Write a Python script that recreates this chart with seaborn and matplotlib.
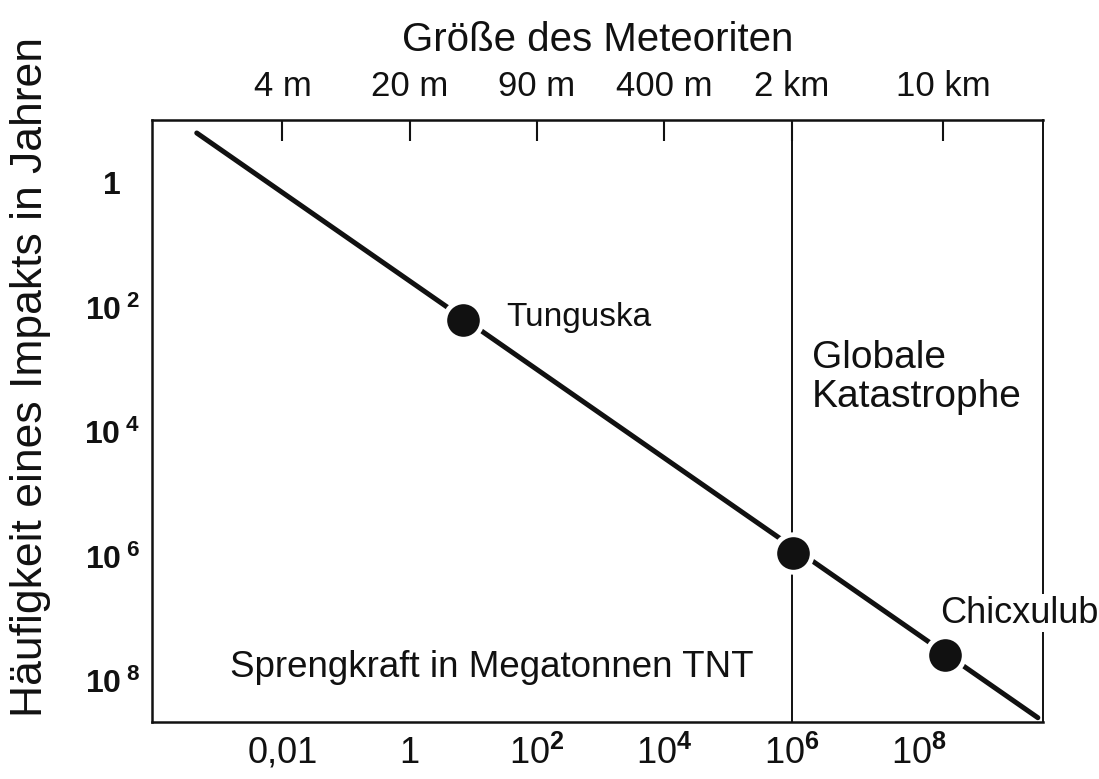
import matplotlib
matplotlib.use("Agg")
import matplotlib.pyplot as plt
import pandas as pd
import seaborn as sns

# data (log-log, energy in Mt TNT vs. years between impacts)
line_energy_mt = [4.5e-4, 7.4e9]
line_interval_yr = [0.158, 3.9e8]

event_names = ["Tunguska", "", "Chicxulub"]
event_energy_mt = [6.8, 1.05e6, 2.6e8]
event_interval_yr = [158, 8.7e5, 3.8e7]

global_limit_mt = 1e6

energy_ticks = [1e-2, 1, 1e2, 1e4, 1e6, 1e8]
energy_labels = ["0,01", "1", r"$10^{\mathbf{2}}$", r"$10^{\mathbf{4}}$",
                 r"$10^{\mathbf{6}}$", r"$10^{\mathbf{8}}$"]
size_ticks = [1e-2, 1, 1e2, 1e4, 1e6, 2.4e8]
size_labels = ["4 m", "20 m", "90 m", "400 m", "2 km", "10 km"]
year_ticks = [1, 1e2, 1e4, 1e6, 1e8]
year_labels = [r"$\mathbf{1}$" + "   ", r"$\mathbf{10}^{\;\mathbf{2}}$",
               r"$\mathbf{10}^{\;\mathbf{4}}$", r"$\mathbf{10}^{\;\mathbf{6}}$",
               r"$\mathbf{10}^{\;\mathbf{8}}$"]

sns.set_style("white")
plt.rcParams["font.family"] = ["Liberation Sans", "DejaVu Sans"]
plt.rcParams["mathtext.fontset"] = "custom"
plt.rcParams["mathtext.rm"] = "Liberation Sans"
plt.rcParams["mathtext.bf"] = "Liberation Sans:bold"
plt.rcParams["mathtext.it"] = "Liberation Sans:italic"

ink = "#111111"

fig = plt.figure(figsize=(10.99, 7.79), dpi=100)
ax = fig.add_axes([152 / 1099, 1 - 722 / 779, (1043 - 152) / 1099, (722 - 120) / 779])

line_df = pd.DataFrame({"energy": line_energy_mt, "years": line_interval_yr})
event_df = pd.DataFrame({"name": event_names, "energy": event_energy_mt,
                         "years": event_interval_yr})

ax.axvline(global_limit_mt, color=ink, lw=1.4, zorder=1)
sns.lineplot(data=line_df, x="energy", y="years", ax=ax, color=ink, lw=3.6,
             zorder=2, sort=False)
sns.scatterplot(data=event_df, x="energy", y="years", ax=ax, color=ink, s=27 ** 2,
                edgecolor="white", linewidth=3.5, zorder=3)

ax.set_xscale("log")
ax.set_yscale("log")
ax.set_xlim(10 ** -4.05, 10 ** 9.95)
ax.set_ylim(10 ** 8.66, 10 ** -1.01)
ax.minorticks_off()

ax.set_xticks(energy_ticks)
ax.set_xticklabels(energy_labels, fontsize=26)
ax.set_yticks(year_ticks)
ax.set_yticklabels(year_labels, fontsize=23)
ax.tick_params(axis="both", direction="in", length=13, width=1.5, color=ink,
               labelcolor=ink)
ax.tick_params(axis="x", pad=10)
ax.tick_params(axis="y", pad=9)
ax.set_xlabel("")
ax.set_ylabel("Häufigkeit eines Impakts in Jahren", fontsize=32, color=ink)
ax.yaxis.set_label_coords(-0.113, 0.573)

for side in ["left", "bottom", "top"]:
    ax.spines[side].set_linewidth(1.8)
    ax.spines[side].set_color(ink)
ax.spines["right"].set_linewidth(1.4)
ax.spines["right"].set_color(ink)

secax = ax.secondary_xaxis("top")
secax.set_xticks(size_ticks)
secax.set_xticklabels(size_labels, fontsize=25)
secax.minorticks_off()
secax.tick_params(axis="x", direction="in", length=15, width=1.5, color=ink,
                  labelcolor=ink, pad=12)
secax.set_xlabel("Größe des Meteoriten", fontsize=29, color=ink, labelpad=14)

ax.text(10 ** 1.52, 10 ** 2.17, "Tunguska", fontsize=24, color=ink,
        ha="left", va="center")
ax.text(10 ** 6.32, 10 ** 3.12, "Globale\nKatastrophe", fontsize=28, color=ink,
        ha="left", va="center", linespacing=1.1)
ax.text(10 ** 8.33, 10 ** 6.91, "Chicxulub", fontsize=26, color=ink,
        ha="left", va="center", zorder=5, clip_on=False,
        bbox=dict(facecolor="white", edgecolor="none", pad=1))
ax.text(10 ** 1.29, 10 ** 7.79, "Sprengkraft in Megatonnen TNT", fontsize=26.5,
        color=ink, ha="center", va="center")

fig.savefig("out.png", dpi=100, facecolor="white")
